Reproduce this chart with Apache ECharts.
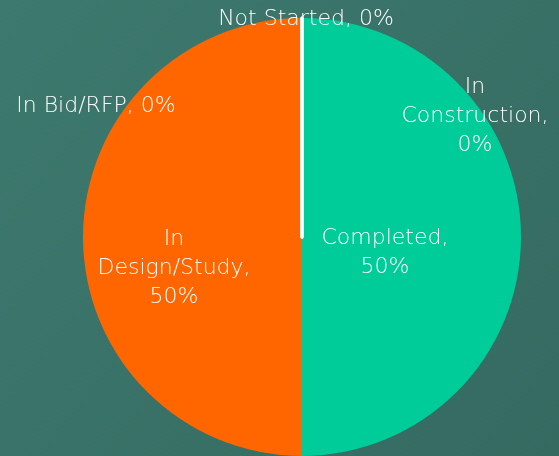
<!DOCTYPE html>
<html>
<head>
<meta charset="utf-8">
<script src="https://cdn.jsdelivr.net/npm/echarts@6/dist/echarts.min.js"></script>
<style>
  html, body { margin: 0; padding: 0; }
  #chart { width: 559px; height: 456px; }
</style>
</head>
<body>
<div id="chart"></div>
<script>
// data, in drawing order (clockwise from 12 o'clock)
const stages = ['Completed', 'In Design/Study', 'In Bid/RFP', 'Not Started', 'In Construction']
const counts = [50, 50, 0, 0, 0]
const colors = ['#00CC99', '#FF6600', '#FF6600', '#00CC99', '#00CC99']

// how each label wraps, and where it sits
const wrapHead = {
  'Completed': 'Completed,\n',
  'In Design/Study': 'In\nDesign/Study,\n',
  'In Bid/RFP': 'In Bid/RFP, ',
  'Not Started': 'Not Started, ',
  'In Construction': 'In\nConstruction,\n',
}
const labelPos = {
  'Completed': [385, 253],
  'In Design/Study': [174, 268],
  'In Bid/RFP': [96, 106],
  'Not Started': [306, 19],
  'In Construction': [475, 116],
}

const chart = echarts.init(document.getElementById('chart'))

chart.setOption({
  backgroundColor: {
    type: 'linear', x: 0, y: 0, x2: 1, y2: 1,
    colorStops: [
      { offset: 0, color: '#3d796e' },
      { offset: 1, color: '#356a61' },
    ],
  },
  textStyle: { fontFamily: 'DejaVu Sans' },
  series: [
    {
      type: 'pie',
      center: [302, 237],
      radius: 219,
      startAngle: 90,
      clockwise: true,
      silent: true,
      avoidLabelOverlap: false,
      labelLine: { show: false },
      label: {
        show: true,
        position: 'inside',
        color: '#ffffff',
        fontSize: 22,
        fontWeight: 200,
        lineHeight: 29,
        align: 'center',
        formatter: (p) => wrapHead[p.name] + p.percent.toFixed(0) + '%',
      },
      labelLayout: (p) => {
        const name = stages[p.dataIndex]
        return { x: labelPos[name][0], y: labelPos[name][1], align: 'center', verticalAlign: 'middle' }
      },
      data: stages.map((s, i) => ({
        name: s,
        value: counts[i],
        itemStyle: counts[i] === 0
          ? { color: colors[i], borderColor: '#ffffff', borderWidth: 3 }
          : { color: colors[i], borderWidth: 0 },
      })),
    },
  ],
})
</script>
</body>
</html>
